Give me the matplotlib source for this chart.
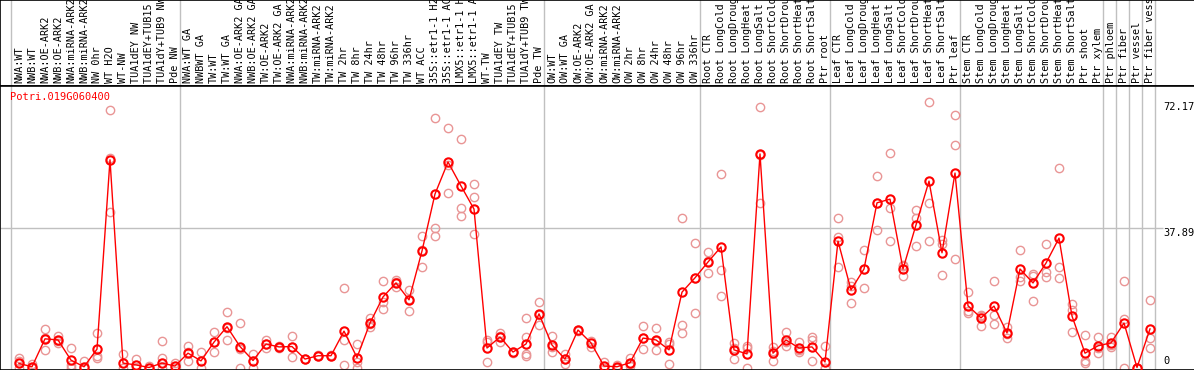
import numpy as np
import matplotlib.pyplot as plt

gene = "Potri.019G060400"

samples = [
    "NWA:WT", "NWB:WT", "NWA:OE-ARK2", "NWB:OE-ARK2", "NWA:miRNA-ARK2", "NWB:miRNA-ARK2",
    "NW 0hr", "WT H2O", "WT-NW", "TUA1dEY NW", "TUA1dEY+TUB15 NW", "TUA1dY+TUB9 NW", "Pde NW",
    "NWA:WT GA", "NWBWT GA", "TW:WT", "TW:WT GA", "NWA:OE-ARK2 GA", "NWB:OE-ARK2 GA",
    "TW:OE-ARK2", "TW:OE-ARK2 GA", "NWA:miRNA-ARK2 GA", "NWB:miRNA-ARK2 GA",
    "TW:miRNA-ARK2", "TW:miRNA-ARK2", "TW 2hr", "TW 8hr", "TW 24hr", "TW 48hr", "TW 96hr",
    "TW 336hr", "WT ACC", "35S::etr1-1 H2O", "35S::etr1-1 ACC", "LMX5::etr1-1 H2O",
    "LMX5::etr1-1 ACC", "WT-TW", "TUA1dEY TW", "TUA1dEY+TUB15 TW", "TUA1dY+TUB9 TW", "Pde TW",
    "OW:WT", "OW:WT GA", "OW:OE-ARK2", "OW:OE-ARK2 GA", "OW:miRNA-ARK2", "OW:miRNA-ARK2",
    "OW 2hr", "OW 8hr", "OW 24hr", "OW 48hr", "OW 96hr", "OW 336hr",
    "Root CTR", "Root LongCold", "Root LongDrought", "Root LongHeat", "Root LongSalt",
    "Root ShortCold", "Root ShortDrought", "Root ShortHeat", "Root ShortSalt", "Ptr root",
    "Leaf CTR", "Leaf LongCold", "Leaf LongDrought", "Leaf LongHeat", "Leaf LongSalt",
    "Leaf ShortCold", "Leaf ShortDrought", "Leaf ShortHeat", "Leaf ShortSalt", "Ptr leaf",
    "Stem CTR", "Stem LongCold", "Stem LongDrought", "Stem LongHeat", "Stem LongSalt",
    "Stem ShortCold", "Stem ShortDrought", "Stem ShortHeat", "Stem ShortSalt", "Ptr shoot",
    "Ptr xylem", "Ptr phloem", "Ptr fiber", "Ptr vessel", "Ptr fiber vessel",
]

# samples per group, a grey line is drawn after each group
group_sizes = [13, 28, 12, 10, 10, 11, 1, 1, 1, 1]

means = [
    1.1, 0.2, 7.8, 7.5, 2.0, 0.2, 5.0, 56.5, 1.2, 0.7, 0.0, 1.2, 0.4,
    3.9, 1.8, 6.9, 11.1, 5.7, 1.9, 6.4, 5.6, 5.7, 2.3, 3.2, 3.2, 9.9, 2.7, 12.1,
    19.2, 23.0, 18.4, 31.7, 47.2, 55.9, 49.4, 43.1, 5.3, 8.3, 4.2, 6.4, 14.6,
    6.1, 2.3, 10.2, 6.7, 0.4, 0.2, 1.3, 8.0, 7.5, 4.8, 20.5, 24.4,
    28.7, 32.8, 4.8, 3.7, 58.1, 3.9, 7.5, 5.3, 5.6, 1.5,
    34.4, 21.1, 26.8, 44.8, 45.8, 26.8, 38.8, 50.7, 31.2, 52.9,
    16.8, 13.5, 16.7, 9.4, 26.8, 23.0, 28.4, 35.2, 14.0, 3.9, 5.9,
    6.7, 12.1, 0.0, 10.5,
]

replicates = [
    [2.6, 1.8, 0.0], [1.0, 0.0], [10.5, 4.8, 7.9], [8.6, 6.7, 7.2], [5.3, 0.7, 0.0],
    [1.8, 0.0], [9.4, 3.1, 2.6], [70.1, 57.1, 42.3], [3.7, 0.0], [2.3, 0.0],
    [0.4, 0.0], [7.2, 2.6, 0.0], [1.2, 0.0],
    [5.8, 1.8, 4.2], [4.2, 0.0], [9.7, 4.2, 6.9], [15.1, 7.5, 10.7], [12.1, 0.0, 4.9],
    [0.0, 1.8, 3.7], [7.5, 5.3, 6.4], [5.6, 5.4, 5.8], [8.7, 2.9, 5.5], [2.3, 2.4],
    [3.2, 3.3], [3.0, 3.4], [21.6, 7.5, 0.7], [6.4, 0.0, 1.6], [13.5, 11.0, 11.9],
    [23.5, 17.8, 15.9], [23.8, 21.9, 23.3], [21.1, 15.4, 18.6], [35.8, 27.4, 31.9],
    [67.9, 37.9, 35.8], [65.2, 47.5, 55.0], [62.2, 43.5, 41.1], [49.9, 46.4, 36.3],
    [7.5, 6.9, 1.5], [9.4, 6.9, 8.6], [4.3, 4.0], [13.5, 8.3, 3.7, 3.1], [17.8, 11.6, 14.3],
    [8.6, 4.2, 5.6], [3.7, 1.0, 2.3], [10.2, 10.0], [7.2, 5.6], [1.5, 0.0], [0.8, 0.0],
    [2.6, 0.4, 1.0], [11.3, 5.0, 8.0], [10.7, 4.8, 7.2], [6.9, 1.0, 6.3],
    [40.7, 11.6, 9.4], [33.9, 14.8, 24.4],
    [31.4, 25.7, 29.0], [52.6, 26.5, 19.5], [6.7, 2.3, 5.3], [5.8, 0.0, 5.2],
    [70.8, 44.8, 57.7], [5.6, 1.8, 4.4], [9.7, 5.8, 6.9], [6.9, 4.2, 4.8],
    [8.3, 7.5, 1.8], [5.8, 0.0, 0.0],
    [40.7, 35.5, 27.4], [23.3, 17.5, 22.3], [32.0, 21.6, 26.8], [52.1, 37.4, 44.8],
    [58.4, 43.5, 34.4], [27.6, 24.9, 27.9], [42.8, 40.7, 33.0], [72.17, 44.8, 34.4],
    [34.7, 33.6, 25.2], [68.7, 60.5, 29.5],
    [20.5, 15.4, 14.8], [14.3, 11.3, 14.0], [23.5, 14.3, 11.8], [11.0, 8.0, 9.2],
    [32.0, 24.6, 23.5], [25.4, 18.1, 25.0], [33.6, 26.0, 24.6], [54.3, 27.4, 24.3],
    [17.3, 15.6, 9.7], [8.8, 1.8, 1.2], [8.3, 3.9, 5.4],
    [8.3, 5.6, 6.2], [23.5, 13.2, 0.0], [0.0, 0.0], [18.4, 8.0, 5.3],
]

ytick_vals = [72.17, 37.89, 0]

red = "#ff0000"
pink = "#e99595"
grey = "#c0c0c0"
mono = "DejaVu Sans Mono"

W, H = 1194, 370
top_h = 86
fig = plt.figure(figsize=(W / 100, H / 100), dpi=100)
ax_lab = fig.add_axes([0, 1 - top_h / H, 1, top_h / H])
ax = fig.add_axes([0, 0, 1, 1 - top_h / H], sharex=ax_lab)

x = np.arange(len(samples))
# pixel x = 19 + 13 * index
ax.set_xlim(-19 / 13, (W - 19) / 13)
ax.set_ylim(-2.5 / 3.676, (367.5 - top_h) / 3.676)
ax_lab.set_ylim(0, 1)

bounds = np.concatenate([[0], np.cumsum(group_sizes)]) - 0.6
for a in (ax, ax_lab):
    for b in bounds:
        a.axvline(b, color=grey, lw=1, zorder=0)
    a.set_xticks([])
    a.set_yticks([])
    a.spines["right"].set_visible(False)
    for s in ("left", "top", "bottom"):
        a.spines[s].set_linewidth(1.2)

ax.hlines(ytick_vals[1], ax.get_xlim()[0], (1163 - 19) / 13, color=grey, lw=1, zorder=0)

for i, reps in enumerate(replicates):
    ax.plot([i] * len(reps), reps, "o", mfc="none", mec=pink, mew=1, ms=6, zorder=2,
            clip_on=False)
ax.plot(x, means, "-", color=red, lw=1, zorder=3)
ax.plot(x, means, "o", mfc="none", mec=red, mew=1.5, ms=6, zorder=4, clip_on=False)

xr = (1163 - 19) / 13
ax.text(xr, ytick_vals[0], "72.17", fontsize=7.5, family=mono, va="top", ha="left")
ax.text(xr, ytick_vals[1], "37.89", fontsize=7.5, family=mono, va="top", ha="left")
ax.text(xr, 0.5, "0", fontsize=7.5, family=mono, va="bottom", ha="left")

ax.text(10 / W, (H - 97) / (H - top_h), gene, transform=ax.transAxes, color=red,
        fontsize=7.5, family=mono, va="center", ha="left")

for i, name in enumerate(samples):
    ax_lab.text(i, 0.03, name, rotation=90, fontsize=7.3, family=mono,
                ha="center", va="bottom", clip_on=True)

fig.savefig("out.png", dpi=100)
